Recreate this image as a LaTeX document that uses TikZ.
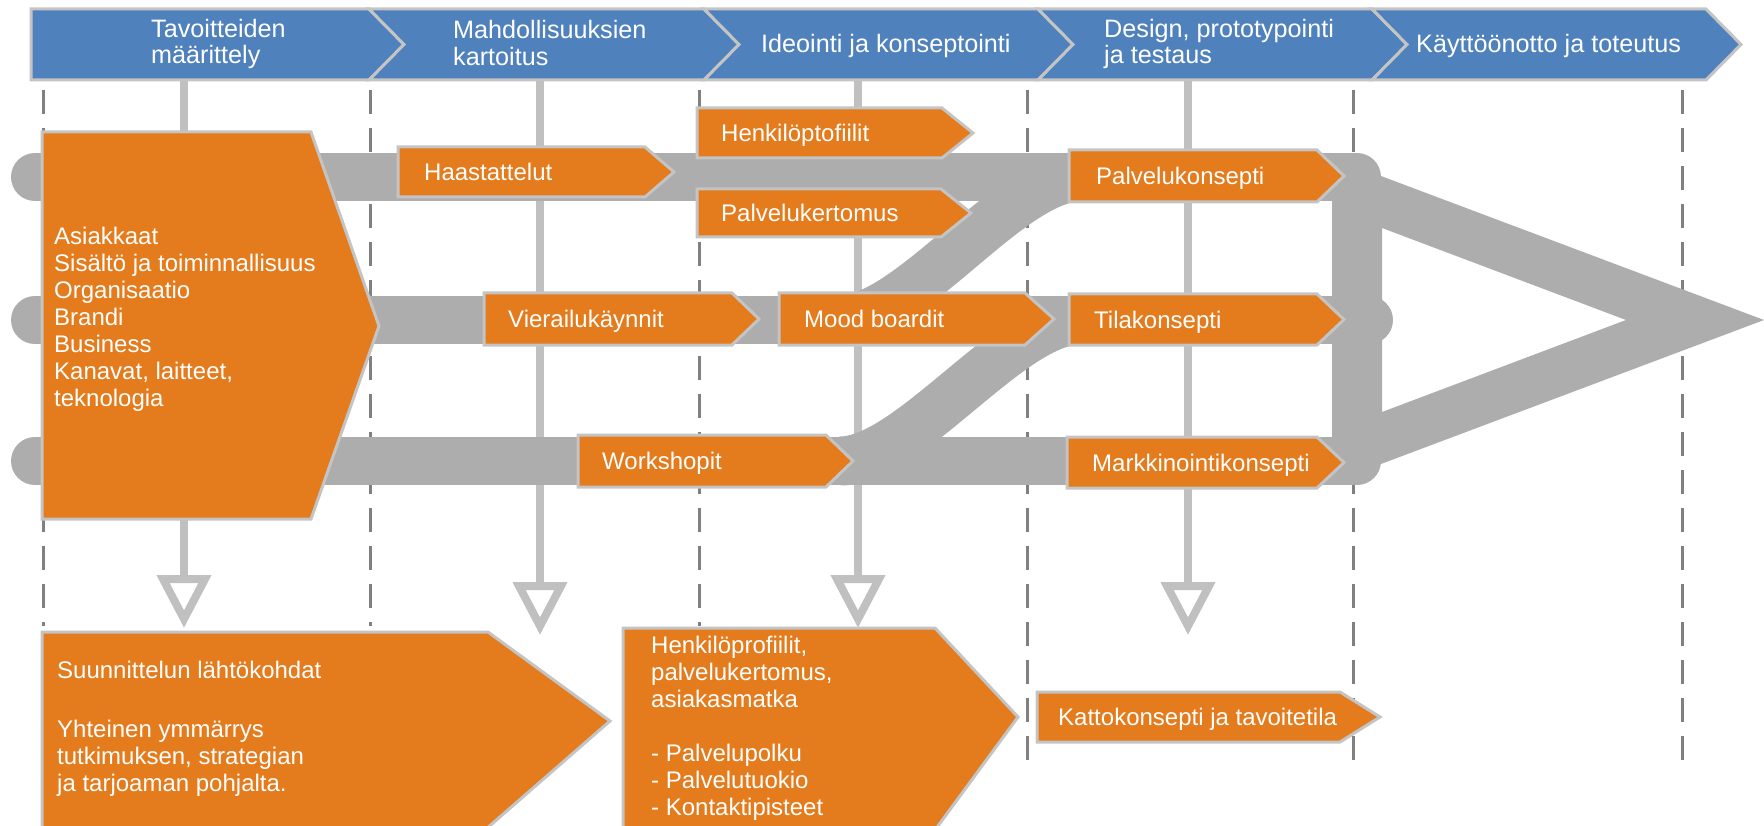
\documentclass[tikz,border=0pt]{standalone}
\usepackage{fontspec}
\setmainfont{Liberation Sans}
\usetikzlibrary{calc}
\definecolor{hdrblue}{RGB}{79,129,189}
\definecolor{boxorange}{RGB}{228,123,28}
\definecolor{bandgray}{RGB}{173,173,173}
\definecolor{edgegray}{RGB}{196,196,196}
\definecolor{dashgray}{RGB}{128,128,128}
\definecolor{linegray}{RGB}{192,192,192}
\tikzset{
  hdr/.style={fill=hdrblue, draw=edgegray, line width=3pt, line join=miter},
  obox/.style={fill=boxorange, draw=edgegray, line width=3pt, line join=miter},
  band/.style={draw=bandgray, line width=48pt, line cap=round},
  sband/.style={draw=bandgray, line width=49pt},
  phase/.style={draw=dashgray, line width=3pt, dash pattern=on 24pt off 14pt},
  vline/.style={draw=linegray, line width=8pt},
  tri/.style={draw=linegray, fill=white, line width=8pt, line join=miter},
  lbl/.style={text=white, font=\fontsize{24}{27}\selectfont, inner sep=0pt, align=left},
  hlbl/.style={text=white, font=\fontsize{25.2}{26.5}\selectfont, inner sep=0pt, align=left},
}
% name, x1, y1, x2 (tip), y2, tip depth, text x, text
\newcommand\chevbox[8]{%
  \path[obox] (#2,#3) -- (#4-#6,#3) -- (#4,{(#3+#5)/2}) -- (#4-#6,#5) -- (#2,#5) -- cycle;
  \node[lbl, anchor=base west] (#1) at (#7,{(#3+#5)/2+8.6}) {#8};%
}
\begin{document}
\begin{tikzpicture}[x=1pt,y=-1pt]
\useasboundingbox (0,0) rectangle (1764,826);
\clip (0,0) rectangle (1764,826);

% ---------- header ----------
\path[hdr] (31,9) -- (369,9) -- (404,44.5) -- (369,80) -- (31,80) -- cycle;
\foreach \a/\b in {369/704, 704/1038, 1038/1372, 1372/1706}{
  \path[hdr] (\a,9) -- (\b,9) -- (\b+35,44.5) -- (\b,80) -- (\a,80) -- (\a+35,44.5) -- cycle;
}
\node[hlbl, anchor=north west] (h1) at (151,19) {Tavoitteiden\\määrittely};
\node[hlbl, anchor=north west] (h2) at (453,20.5) {Mahdollisuuksien\\kartoitus};
\node[hlbl, anchor=base west] (h3) at (761,52.5) {Ideointi ja konseptointi};
\node[hlbl, anchor=north west] (h4) at (1104,19) {Design, prototypointi\\ja testaus};
\node[hlbl, anchor=base west] (h5) at (1416,52.5) {Käyttöönotto ja toteutus};

% ---------- phase separators ----------
\foreach \x/\e in {43/626, 370/626, 699/626, 1027/765, 1353/765, 1682/765}{
  \draw[phase] (\x,90) -- (\x,\e);
}

% ---------- vertical arrows ----------
\coordinate (a1s) at (184,81);  \coordinate (a1e) at (184,579);
\coordinate (a2s) at (540,81);  \coordinate (a2e) at (540,586);
\coordinate (a3s) at (858,81);  \coordinate (a3e) at (858,579);
\coordinate (a4s) at (1188,81); \coordinate (a4e) at (1188,586);
\foreach \i in {1,2,3,4}{
  \draw[vline] (a\i s) -- (a\i e);
  \path[tri] ($(a\i e)+(-21,0)$) -- ($(a\i e)+(21,0)$) -- ($(a\i e)+(0,40)$) -- cycle;
}

% ---------- grey flow bands ----------
\draw[band] (35,177) -- (1357,177);
\draw[band] (35,320) -- (1369,320);
\draw[band] (35,461) -- (1357,461);
\draw[sband] (840,320) .. controls (910,320) and (1010,177) .. (1080,177);
\draw[sband] (840,461) .. controls (910,461) and (1010,320) .. (1080,320);
\draw[draw=bandgray, line width=50pt] (1357,177) -- (1357,461);
\fill[bandgray, even odd rule] (1357,167) -- (1764,320) -- (1357,473) -- cycle
  (1382,228) -- (1626,320) -- (1382,412) -- cycle;

% ---------- big input box ----------
\path[obox] (42,132) -- (311,132) -- (379,326) -- (311,519) -- (42,519) -- cycle;
\node[lbl, anchor=north west] (inputs) at (54,226.8)
  {Asiakkaat\\Sisältö ja toiminnallisuus\\Organisaatio\\Brandi\\Business\\Kanavat, laitteet,\\teknologia};

% ---------- method boxes ----------
\chevbox{haast}{398}{147}{674}{197}{29}{424}{Haastattelut}
\chevbox{henk}{697}{108}{973}{158}{31}{721}{Henkilöptofiilit}
\chevbox{palvk}{697}{189}{971}{237}{30}{721}{Palvelukertomus}
\chevbox{vier}{484}{293}{759}{345}{27}{508}{Vierailukäynnit}
\chevbox{mood}{779}{293}{1054}{345}{29}{804}{Mood boardit}
\chevbox{work}{578}{435}{853}{487}{27}{602}{Workshopit}
\chevbox{pkons}{1069}{150}{1344}{202}{27}{1096}{Palvelukonsepti}
\chevbox{tila}{1069}{294}{1344}{345}{27}{1094}{Tilakonsepti}
\chevbox{mark}{1067}{437}{1344}{488}{27}{1092}{Markkinointikonsepti}
\chevbox{katto}{1037}{692}{1380}{742}{40}{1058}{Kattokonsepti ja tavoitetila}

% ---------- result boxes ----------
\path[obox] (42,632) -- (488,632) -- (610,721) -- (485,830) -- (42,830) -- cycle;
\node[lbl, anchor=north west] (lahto) at (57,660.8)
  {Suunnittelun lähtökohdat\\[32pt]Yhteinen ymmärrys\\tutkimuksen, strategian\\ja tarjoaman pohjalta.};
\path[obox] (623,628) -- (935,628) -- (1018,717) -- (935,830) -- (623,830) -- cycle;
\node[lbl, anchor=north west] (profiilit) at (651,635.8)
  {Henkilöprofiilit,\\palvelukertomus,\\asiakasmatka\\[27pt]- Palvelupolku\\- Palvelutuokio\\- Kontaktipisteet};
\end{tikzpicture}
\end{document}
